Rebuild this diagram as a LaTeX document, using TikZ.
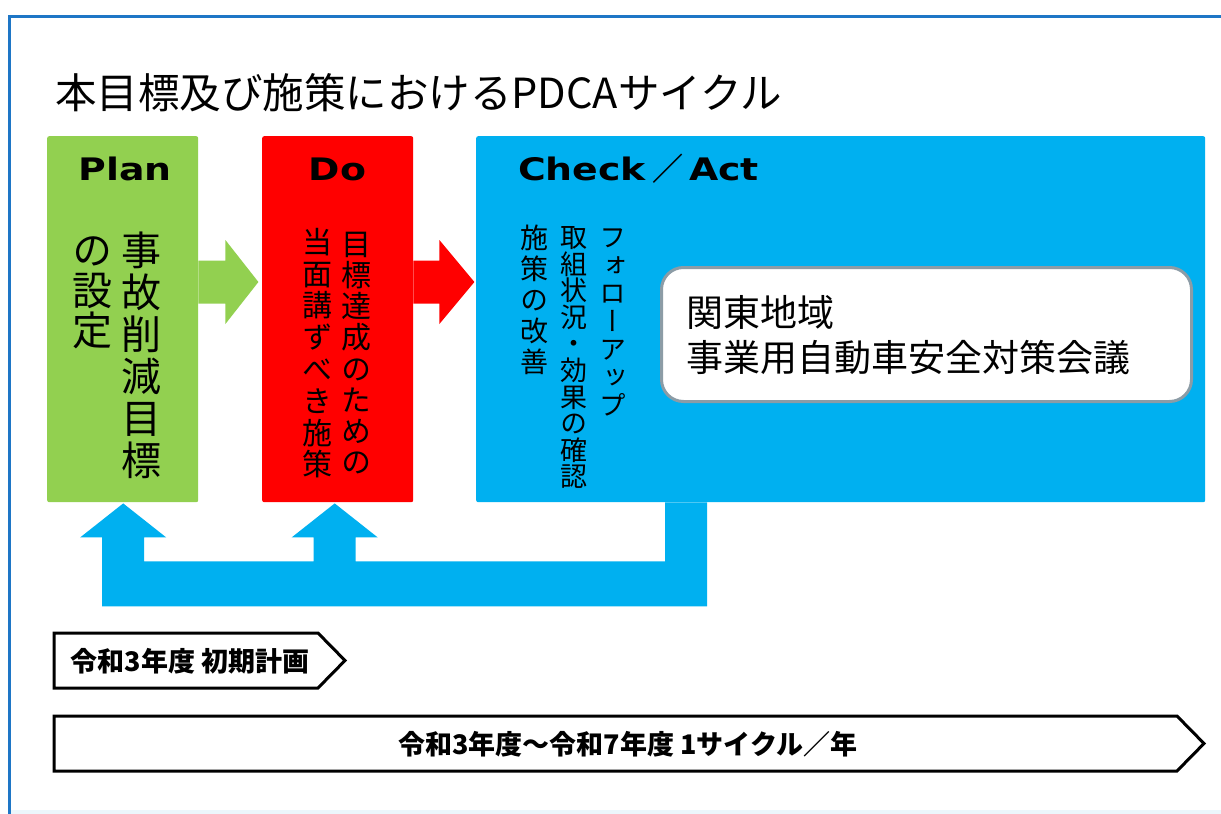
\documentclass[tikz,border=0pt]{standalone}
\usepackage{fontspec}
\usepackage{graphicx}
\usetikzlibrary{calc}
\newfontfamily\jp{Noto Sans CJK JP}
\newfontfamily\jpv[RawFeature=+vert]{Noto Sans CJK JP}
\newfontfamily\dv{DejaVu Sans}
\definecolor{pgreen}{RGB}{146,208,80}
\definecolor{pred}{RGB}{255,0,0}
\definecolor{pblue}{RGB}{0,176,240}
\definecolor{frameblue}{RGB}{30,118,198}
\definecolor{boxgrey}{RGB}{140,156,166}
\definecolor{faint}{RGB}{236,246,252}
\begin{document}
\begin{tikzpicture}[x=1pt,y=-1pt,
  phase/.style={rounded corners=2, inner sep=0, anchor=north west},
  tate/.style={align=center, inner sep=0, anchor=north},
  head/.style={anchor=base, inner sep=0, font=\dv\bfseries\fontsize{31}{31}\selectfont},
  tl/.style={draw=black, line width=3, fill=white, line join=miter},
  tltext/.style={inner sep=0, font=\jp\bfseries\fontsize{27}{27}\selectfont}]
\useasboundingbox (0,0) rectangle (1221,814);
\clip (0,0) rectangle (1221,814);
\fill[white] (0,0) rectangle (1221,814);
% frame
\fill[faint] (10,810) rectangle (1221,814);
\draw[frameblue, line width=3] (9,830) -- (9,16) -- (1240,16);
% title
\node[anchor=base west, inner sep=0, font=\jp\fontsize{41.5}{41.5}\selectfont] (title) at (55,108) {本目標及び施策におけるPDCAサイクル};
% phase boxes
\node[phase, fill=pgreen, minimum width=151, minimum height=366] (plan) at (47,136) {};
\node[phase, fill=pred, minimum width=151, minimum height=366] (do) at (262,136) {};
\node[phase, fill=pblue, minimum width=729, minimum height=366] (check) at (476,136) {};
% headers
\node[head] (planlbl) at (125,180) {\scalebox{1.22}[1]{Plan}};
\node[head] (dolbl) at (337.5,180) {\scalebox{1.22}[1]{Do}};
\node[head, anchor=base west] (checklbl) at (518,180) {\scalebox{1.22}[1]{Check}\hspace{6pt}{\jp\bfseries ／}\hspace{6pt}\scalebox{1.22}[1]{Act}};
% vertical texts
\node[tate, font=\jpv\fontsize{40}{42}\selectfont] (plan1) at (141,229) {\rule{0pt}{0.9em}事\\故\\削\\減\\目\\標};
\node[tate, font=\jpv\fontsize{40}{40}\selectfont] (plan2) at (92,229) {\rule{0pt}{0.9em}の\\設\\定};
\node[tate, font=\jpv\fontsize{30}{31.2}\selectfont] (do1) at (356,228) {\rule{0pt}{0.9em}目\\標\\達\\成\\の\\た\\め\\の};
\node[tate, font=\jpv\fontsize{30}{31.8}\selectfont] (do2) at (317,226) {\rule{0pt}{0.9em}当\\面\\講\\ず\\べ\\き\\施\\策};
\node[tate, font=\jpv\fontsize{27}{28}\selectfont] (ck1) at (613,223) {\rule{0pt}{0.9em}フ\\ォ\\ロ\\ー\\ア\\ッ\\プ};
\node[tate, font=\jpv\fontsize{27}{26.6}\selectfont] (ck2) at (574,223) {\rule{0pt}{0.9em}取\\組\\状\\況\\・\\効\\果\\の\\確\\認};
\node[tate, font=\jpv\fontsize{28}{31}\selectfont] (ck3) at (534,223) {\rule{0pt}{0.9em}施\\策\\の\\改\\善};
% council box
\node[phase, draw=boxgrey, line width=3, fill=white, rounded corners=22, minimum width=530, minimum height=134] (council) at (660,266) {};
\node[anchor=west, inner sep=0, align=left, font=\jp\fontsize{37}{45}\selectfont] (counciltxt) at ($(council.west)+(26,1)$) {関東地域\\事業用自動車安全対策会議};
% PDCA arrows
\coordinate (pa) at ($(plan.north east)+(0,146)$);
\fill[pgreen, shift={(pa)}] (0,-21.5) -- (27,-21.5) -- (27,-42) -- (60,0) -- (27,42) -- (27,21.5) -- (0,21.5) -- cycle;
\coordinate (pd) at ($(do.north east)+(0,146)$);
\fill[pred, shift={(pd)}] (0,-21.5) -- (26,-21.5) -- (26,-42) -- (61,0) -- (26,42) -- (26,21.5) -- (0,21.5) -- cycle;
% feedback arrow
\coordinate (c1) at ($(check.south west)+(189,0)$);
\coordinate (c2) at ($(check.south west)+(231,0)$);
\coordinate (ptip) at ($(plan.south)+(0.5,1)$);
\coordinate (dtip) at ($(do.south)+(-3,1)$);
\fill[pblue] (c1) -- ($(c1)+(0,59)$) -- ($(dtip)+(21,58)$) -- ($(dtip)+(21,34)$) -- ($(dtip)+(43,34)$) -- (dtip)
  -- ($(dtip)+(-43,34)$) -- ($(dtip)+(-21,34)$) -- ($(dtip)+(-21,58)$)
  -- ($(ptip)+(21,58)$) -- ($(ptip)+(21,34)$) -- ($(ptip)+(43,34)$) -- (ptip)
  -- ($(ptip)+(-43,34)$) -- ($(ptip)+(-21,34)$) -- ($(ptip)+(-21,103)$)
  -- ($(c2)+(0,104)$) -- (c2) -- cycle;
% timeline arrows
\draw[tl] (54,633) -- (318,633) -- (345,660.5) -- (318,688) -- (54,688) -- cycle;
\node[tltext] (tl1) at (190,661) {令和3年度 初期計画};
\draw[tl] (54,716) -- (1177,716) -- (1204,743.5) -- (1177,771) -- (54,771) -- cycle;
\node[tltext] (tl2) at (628,744) {令和3年度～令和7年度 1サイクル／年};
\end{tikzpicture}
\end{document}
